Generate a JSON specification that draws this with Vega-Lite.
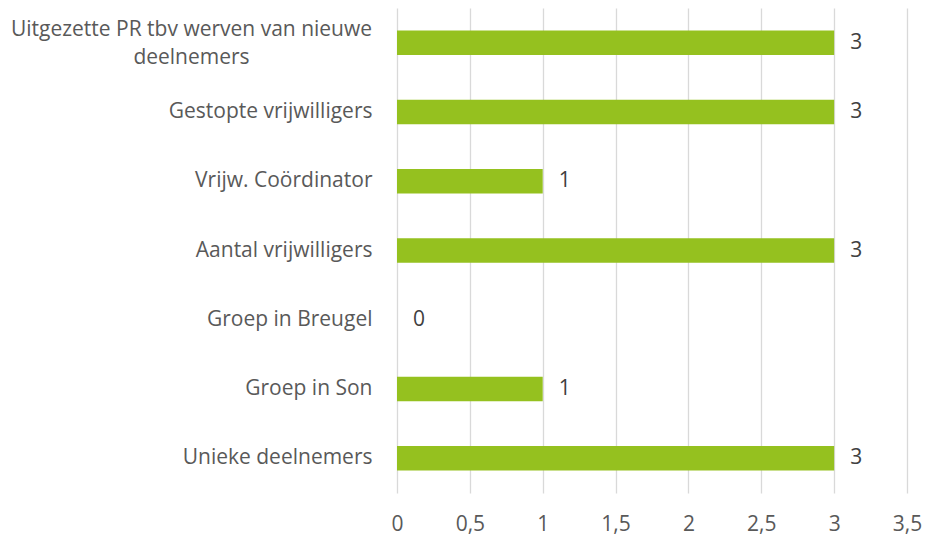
{
  "$schema": "https://vega.github.io/schema/vega-lite/v6.json",
  "width": 510,
  "height": 485,
  "autosize": {"type": "none"},
  "padding": {"left": 397, "top": 8, "right": 18, "bottom": 42},
  "background": "white",
  "data": {"values": [
    {"categorie": "Uitgezette PR tbv werven van nieuwe deelnemers", "aantal": 3},
    {"categorie": "Gestopte vrijwilligers", "aantal": 3},
    {"categorie": "Vrijw. Coördinator", "aantal": 1},
    {"categorie": "Aantal vrijwilligers", "aantal": 3},
    {"categorie": "Groep in Breugel", "aantal": 0},
    {"categorie": "Groep in Son", "aantal": 1},
    {"categorie": "Unieke deelnemers", "aantal": 3}
  ]},
  "config": {
    "view": {"stroke": null},
    "font": "Open Sans",
    "axis": {"labelFont": "Open Sans", "labelFontSize": 21, "labelColor": "#595959"}
  },
  "encoding": {
    "y": {
      "field": "categorie", "type": "nominal", "sort": null,
      "scale": {"paddingInner": 0.646, "paddingOuter": 0.323},
      "axis": {
        "title": null, "domain": false, "ticks": false, "grid": false,
        "labelLimit": 0, "labelLineHeight": 28,
        "labelPadding": {"condition": {"test": "datum.index == 0", "value": 206}, "value": 25},
        "labelAlign": {"condition": {"test": "datum.index == 0", "value": "center"}, "value": "right"},
        "labelOffset": {"condition": {"test": "datum.index == 0", "value": -13}, "value": 0},
        "labelExpr": "datum.value == 'Uitgezette PR tbv werven van nieuwe deelnemers' ? ['Uitgezette PR tbv werven van nieuwe', 'deelnemers'] : datum.value"
      }
    },
    "x": {
      "field": "aantal", "type": "quantitative",
      "scale": {"domain": [0, 3.5], "nice": false},
      "axis": {
        "title": null, "domain": false, "ticks": false, "grid": true,
        "gridColor": "#d9d9d9", "gridWidth": 1.3,
        "values": [0, 0.5, 1, 1.5, 2, 2.5, 3, 3.5],
        "labelFlush": false, "labelOverlap": false,
        "labelPadding": 20,
        "labelExpr": "replace(format(datum.value, '~g'), '.', ',')"
      }
    }
  },
  "layer": [
    {"mark": {"type": "bar", "color": "#95c11f"}},
    {"mark": {"type": "text", "align": "left", "baseline": "middle", "dx": 16, "fontSize": 21, "color": "#404040", "font": "Open Sans"},
     "encoding": {"text": {"field": "aantal", "type": "quantitative"}}}
  ]
}
